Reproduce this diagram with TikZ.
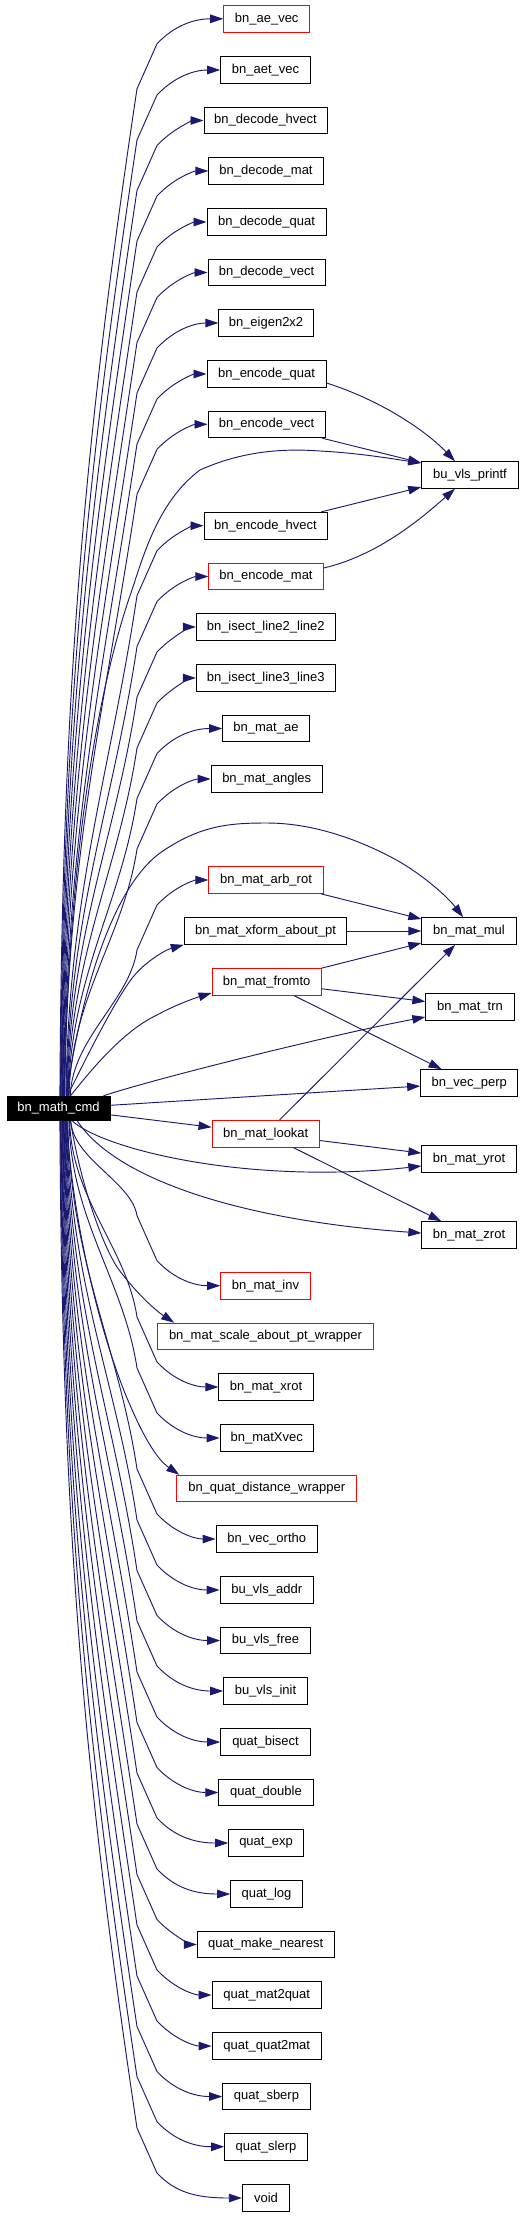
\documentclass[tikz,border=0pt]{standalone}
\usepackage{fontspec}
\setmainfont{Liberation Sans}
\usetikzlibrary{arrows.meta,calc}
\definecolor{navyc}{HTML}{191970}
\newcommand\upE[2]{%
 \pgfmathsetmacro\LL{1096.3-(#2+70)}%
 \pgfmathsetmacro\xs{72-12*\LL/1000}%
 \pgfmathsetmacro\ca{1096.3-0.4*\LL}%
 \pgfmathsetmacro\cbx{137-0.0525*\LL}%
 \pgfmathsetmacro\cby{#2+70+0.35*\LL}%
 \pgfmathsetmacro\ya{#2+70}%
 \pgfmathsetmacro\yb{#2+25}%
 \pgfmathsetmacro\yc{#2+6}%
 \draw[conn] ($(cmd.north)+(\xs-58.5,0)$) .. controls (\xs+2,\ca) and (\cbx,\cby) .. (137,\ya) -- (157,\yb) .. controls (175,\yc) and (195,#2) .. (#1.west);}
\newcommand\dnE[2]{%
 \pgfmathsetmacro\LL{#2-70-1120.7}%
 \pgfmathsetmacro\xs{72-12*\LL/1000}%
 \pgfmathsetmacro\ca{1120.7+0.4*\LL}%
 \pgfmathsetmacro\cbx{137-0.0525*\LL}%
 \pgfmathsetmacro\cby{#2-70-0.35*\LL}%
 \pgfmathsetmacro\ya{#2-70}%
 \pgfmathsetmacro\yb{#2-25}%
 \pgfmathsetmacro\yc{#2-6}%
 \draw[conn] ($(cmd.south)+(\xs-58.5,0)$) .. controls (\xs+2,\ca) and (\cbx,\cby) .. (137,\ya) -- (157,\yb) .. controls (175,\yc) and (195,#2) .. (#1.west);}
\begin{document}
\begin{tikzpicture}[x=0.75pt,y=-0.75pt,
  box/.style={draw=black, fill=white, line width=0.75pt, inner sep=0pt, minimum height=26.6*0.75pt, font=\fontsize{9.75pt}{11pt}\selectfont},
  rbox/.style={box, draw=red},
  w/.style={minimum width=#1*0.75pt},
  conn/.style={draw=navyc, line width=0.7pt, -{Triangle[length=9.75pt,width=6.4pt]}}]
\useasboundingbox (0,0) rectangle (531,2216);
% main node
\node[box, fill=black, text=white, w=103, minimum height=24.4*0.75pt] (cmd) at (58.5,1108.5) {bn\_math\_cmd};
% rank 1
\node[rbox, w=86] (aevec) at (266.7,18.8) {bn\_ae\_vec};
\node[box, w=89.6] (aetvec) at (265.5,70) {bn\_aet\_vec};
\node[box, w=123] (dhvect) at (265.5,120.5) {bn\_decode\_hvect};
\node[box, w=114.3] (dmat) at (266,171) {bn\_decode\_mat};
\node[box, w=119] (dquat) at (266.5,222) {bn\_decode\_quat};
\node[box, w=117] (dvect) at (266.5,272.5) {bn\_decode\_vect};
\node[box, w=94.3] (eigen) at (266,323) {bn\_eigen2x2};
\node[box, w=119] (equat) at (266.5,374) {bn\_encode\_quat};
\node[box, w=117] (evect) at (266.5,424.3) {bn\_encode\_vect};
\node[box, w=123] (ehvect) at (265.5,525.7) {bn\_encode\_hvect};
\node[rbox, w=114.3] (emat) at (266,576.5) {bn\_encode\_mat};
\node[box, w=138.7] (is2) at (265.7,627) {bn\_isect\_line2\_line2};
\node[box, w=138.7] (is3) at (265.7,678) {bn\_isect\_line3\_line3};
\node[box, w=86.6] (matae) at (266,728.5) {bn\_mat\_ae};
\node[box, w=111.3] (angles) at (266.7,779) {bn\_mat\_angles};
\node[rbox, w=114.3] (arbrot) at (266,880) {bn\_mat\_arb\_rot};
\node[box, w=162.4] (xform) at (265.5,931) {bn\_mat\_xform\_about\_pt};
\node[rbox, w=109.3] (fromto) at (266.7,982) {bn\_mat\_fromto};
\node[rbox, w=107.3] (lookat) at (265.7,1133.8) {bn\_mat\_lookat};
\node[rbox, w=89.6] (inv) at (265.5,1285.7) {bn\_mat\_inv};
\node[rbox, w=215.6] (scale) at (265.5,1336.5) {bn\_mat\_scale\_about\_pt\_wrapper};
\node[box, w=94.3] (xrot) at (266,1387) {bn\_mat\_xrot};
\node[box, w=93.3] (matxvec) at (266.7,1438) {bn\_matXvec};
\node[rbox, w=180] (qdist) at (266.7,1488.5) {bn\_quat\_distance\_wrapper};
\node[box, w=101.3] (vortho) at (266.7,1539) {bn\_vec\_ortho};
\node[box, w=93.3] (addr) at (266.7,1590) {bu\_vls\_addr};
\node[box, w=89.6] (free) at (265.5,1640.5) {bu\_vls\_free};
\node[box, w=83.6] (init) at (265.5,1691) {bu\_vls\_init};
\node[box, w=89.6] (bisect) at (265.5,1742) {quat\_bisect};
\node[box, w=94.3] (double) at (266,1792.5) {quat\_double};
\node[box, w=74.6] (exp) at (266,1843) {quat\_exp};
\node[box, w=71.6] (log) at (266.5,1894) {quat\_log};
\node[box, w=136.7] (nearest) at (265.7,1944.5) {quat\_make\_nearest};
\node[box, w=109.3] (m2q) at (266.7,1995) {quat\_mat2quat};
\node[box, w=109.3] (q2m) at (266.7,2046) {quat\_quat2mat};
\node[box, w=87.6] (sberp) at (266.5,2096.5) {quat\_sberp};
\node[box, w=82.6] (slerp) at (266,2146.7) {quat\_slerp};
\node[box, w=47.4] (void) at (266,2198) {void};
% rank 2
\node[box, w=96.6] (printf) at (470,475) {bu\_vls\_printf};
\node[box, w=94.3] (matmul) at (469,931) {bn\_mat\_mul};
\node[box, w=88.3] (trn) at (470,1007) {bn\_mat\_trn};
\node[box, w=97.3] (vperp) at (469.3,1083) {bn\_vec\_perp};
\node[box, w=94.3] (yrot) at (469,1159) {bn\_mat\_yrot};
\node[box, w=94.3] (zrot) at (469,1235) {bn\_mat\_zrot};
% edges up
\upE{aevec}{18.8}
\upE{aetvec}{70}
\upE{dhvect}{120.5}
\upE{dmat}{171}
\upE{dquat}{222}
\upE{dvect}{272.5}
\upE{eigen}{323}
\upE{equat}{374}
\upE{evect}{424.3}
\upE{ehvect}{525.7}
\upE{emat}{576.5}
\upE{is2}{627}
\upE{is3}{678}
\upE{matae}{728.5}
\upE{angles}{779}
\upE{arbrot}{880}
\draw[conn] ($(cmd.north)+(9,0)$) .. controls (85,1060) and (115,1000) .. (133,977) .. controls (145,962) and (165,950) .. (xform.south west);
\draw[conn] ($(cmd.north)+(12,0)$) .. controls (95,1065) and (125,1030) .. (157,1015) .. controls (175,1005) and (195,998) .. ($(fromto.west)+(0,11)$);
\draw[conn] (cmd) -- (lookat);
% edges down
\dnE{inv}{1285.7}
\draw[conn] ($(cmd.south)+(12,0)$) .. controls (80,1180) and (100,1240) .. (117,1267) .. controls (135,1292) and (155,1310) .. ($(scale.north west)+(17,0)$);
\dnE{xrot}{1387}
\dnE{matxvec}{1438}
\draw[conn] ($(cmd.south)+(8,0)$) .. controls (75,1250) and (110,1360) .. (130,1405) .. controls (145,1440) and (158,1460) .. ($(qdist.north west)+(3,0)$);
\dnE{vortho}{1539}
\dnE{addr}{1590}
\dnE{free}{1640.5}
\dnE{init}{1691}
\dnE{bisect}{1742}
\dnE{double}{1792.5}
\dnE{exp}{1843}
\dnE{log}{1894}
\dnE{nearest}{1944.5}
\dnE{m2q}{1995}
\dnE{q2m}{2046}
\dnE{sberp}{2096.5}
\dnE{slerp}{2146.7}
\dnE{void}{2198}
% direct edges from cmd to rank 2
\draw[conn] ($(cmd.north)+(6,0)$) .. controls (68,850) and (100,680) .. (132,590) .. controls (145,550) and (160,500) .. (200,470) .. controls (240,452) and (280,448) .. (320,451) .. controls (360,453) and (400,460) .. ($(printf.west)+(0,-12)$);
\draw[conn] ($(cmd.north)+(8,0)$) .. controls (80,1000) and (110,890) .. (160,853) .. controls (200,825) and (230,823) .. (267,823) .. controls (320,823) and (370,845) .. (400,862) .. controls (430,880) and (450,900) .. ($(matmul.north)+(-6,0)$);
\draw[conn] ($(cmd.north east)+(-7,0)$) .. controls (150,1080) and (330,1035) .. ($(trn.west)+(0,10)$);
\draw[conn] (cmd) -- (vperp);
\draw[conn] ($(cmd.south)+(14,0)$) .. controls (105,1150) and (250,1185) .. ($(yrot.west)+(0,7)$);
\draw[conn] ($(cmd.south)+(19,0)$) .. controls (120,1185) and (260,1222) .. ($(zrot.west)+(0,-2)$);
% rank1 -> rank2
\draw[conn] ($(equat.east)+(0,9)$) .. controls (380,400) and (425,430) .. ($(printf.north)+(-15,0)$);
\draw[conn] (evect) -- (printf);
\draw[conn] (ehvect) -- (printf);
\draw[conn] ($(emat.east)+(0,-8.5)$) .. controls (380,555) and (425,515) .. ($(printf.south)+(-15,0)$);
\draw[conn] (arbrot) -- (matmul);
\draw[conn] (xform) -- (matmul);
\draw[conn] (fromto) -- (matmul);
\draw[conn] (fromto) -- (trn);
\draw[conn] (fromto) -- (vperp);
\draw[conn] (lookat) -- (matmul);
\draw[conn] (lookat) -- (yrot);
\draw[conn] (lookat) -- (zrot);
\end{tikzpicture}
\end{document}
